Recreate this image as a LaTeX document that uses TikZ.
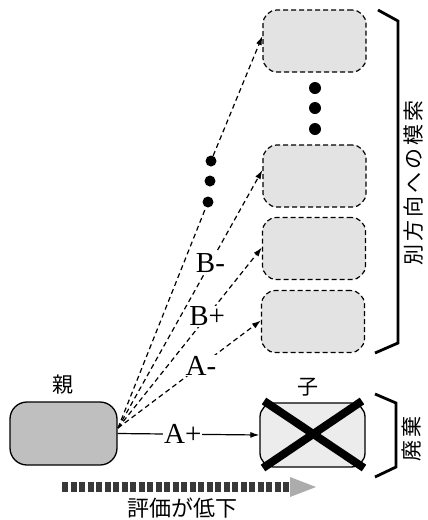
\documentclass[tikz,border=0pt]{standalone}
\usepackage{fontspec}
\setmainfont{Liberation Serif}
\newfontfamily\jp{Noto Sans CJK JP}
\newfontfamily\jpsp[LetterSpace=14]{Noto Sans CJK JP}
\usetikzlibrary{arrows.meta}
\begin{document}
\begin{tikzpicture}[x=1pt,y=-1pt,
  dl/.style={dash pattern=on 5pt off 3.5pt, line width=1.2pt},
  tipd/.style={-{Latex[length=9pt,width=6pt]}},
  cand/.style={draw, dash pattern=on 5pt off 3pt, line width=1.2pt,
    rounded corners=14pt, fill=gray!22, minimum width=103pt,
    minimum height=62pt, inner sep=0pt},
  parentbox/.style={draw, line width=1.3pt, rounded corners=17pt,
    fill=gray!50, minimum width=107pt, minimum height=63pt, inner sep=0pt},
  childbox/.style={draw, line width=1.3pt, rounded corners=14pt,
    fill=gray!15, minimum width=105pt, minimum height=64pt, inner sep=0pt},
  lab/.style={font=\fontsize{29}{32}\selectfont, fill=white, inner sep=1pt},
  jplab/.style={font=\jp\fontsize{21}{24}\selectfont, inner sep=0pt},
  bigdot/.style={circle, fill=black, inner sep=0pt, minimum size=12pt},
  brace/.style={line width=2.8pt},
  cross/.style={line width=8pt}]
\useasboundingbox (0,0) rectangle (428,520);

% boxes
\node[parentbox] (p) at (63.5,433.5) {};
\node[childbox] (c) at (312.5,435) {};
\node[cand] (b1) at (314.5,41) {};
\node[cand] (b2) at (314.5,176) {};
\node[cand] (b3) at (314,248.5) {};
\node[cand] (b4) at (313,321.5) {};

% labels
\node[jplab] (lp) at (63,385) {親};
\node[jplab] (lc) at (308,387) {子};

% vertical dots between b1 and b2
\node[bigdot] (v1) at (315,88) {};
\node[bigdot] (v2) at (315,108) {};
\node[bigdot] (v3) at (315,129) {};

% source point
\coordinate (src) at (118,428);

% dots along the line to b1
\node[bigdot, minimum size=11pt] (d1) at (211,161) {};
\node[bigdot, minimum size=11pt] (d2) at (210,181) {};
\node[bigdot, minimum size=11pt] (d3) at (208,202) {};

\draw[dl] (src) -- (d3);
\draw[dl,tipd] (d1) -- ([yshift=5pt]b1.west);
\draw[dl,tipd] (src) -- node[lab, pos=0.64] (lbm) {B-} ([yshift=6pt]b2.west);
\draw[dl,tipd] (src) -- node[lab, pos=0.62] (lbp) {B+} ([yshift=1pt]b3.west);
\draw[dl,tipd] (src) -- node[lab, pos=0.58] (lam) {A-} ([yshift=1pt]b4.west);

% A+ arrow
\draw[line width=1.2pt,tipd] (p.east) -- node[lab, pos=0.46] (lap) {A+} (c.west);

% cross
\coordinate (x1) at (264,401);
\coordinate (x2) at (364,468);
\coordinate (x3) at (362,401);
\coordinate (x4) at (263,468);
\draw[cross] (x1) -- (x2);
\draw[cross] (x3) -- (x4);

% braces
\coordinate (r1) at (378,10);
\coordinate (r2) at (398,21);
\coordinate (r3) at (398,343);
\coordinate (r4) at (375,353);
\draw[brace] (r1) -- (r2) -- (r3) -- (r4);
\coordinate (s1) at (375,394);
\coordinate (s2) at (396,403);
\coordinate (s3) at (396,467);
\coordinate (s4) at (375,477);
\draw[brace] (s1) -- (s2) -- (s3) -- (s4);

\node[font=\jpsp\fontsize{21}{24}\selectfont, rotate=90, inner sep=0pt] (tm) at (414,183) {別方向への模索};
\node[font=\jpsp\fontsize{21}{24}\selectfont, rotate=90, inner sep=0pt] (th) at (412,439) {廃棄};

% bottom arrow
\coordinate (e0) at (62,487);
\coordinate (e1) at (290,487);
\draw[line width=10pt, gray!45!black, dash pattern=on 6pt off 2.5pt] (e0) -- (e1);
\fill[gray!65] (290,477) -- (316,487) -- (290,497) -- cycle;
\node[jplab, font=\jp\fontsize{22}{24}\selectfont] (te) at (182,508) {評価が低下};
\end{tikzpicture}
\end{document}
